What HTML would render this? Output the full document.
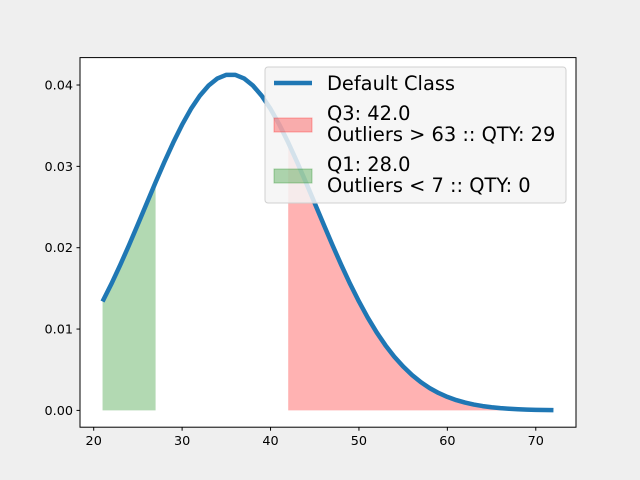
<!DOCTYPE html>
<html><head><meta charset="utf-8"><style>
body{margin:0;background:#fff}
svg{display:block;font-family:"DejaVu Sans","Liberation Sans",sans-serif}
</style></head><body>
<svg id="c" width="640" height="480" viewBox="0 0 640 480">
<rect width="640" height="480" fill="#efefef"/>
<rect x="80" y="57.6" width="496" height="369.6" fill="#fff"/>
<g id="marks"></g>
<rect x="80" y="57.6" width="496" height="369.6" fill="none" stroke="#000" stroke-width="1"/>
<g id="ticks"></g>
<g>
<rect x="265" y="67" width="301" height="136" rx="3" fill="#f4f4f4" fill-opacity="0.85" stroke="#d0d0d0"/>
<line x1="274" y1="83" x2="312" y2="83" stroke="#1f77b4" stroke-width="4.5"/>
<text x="327" y="90" font-size="19.4">Default Class</text>
<rect x="274" y="118" width="38" height="14" fill="#ff0000" fill-opacity="0.3" stroke="#ff0000" stroke-opacity="0.3"/>
<text x="327" y="120" font-size="19.4">Q3: 42.0</text>
<text x="327" y="141" font-size="19.4">Outliers &gt; 63 :: QTY: 29</text>
<rect x="274" y="169" width="38" height="14" fill="#008000" fill-opacity="0.3" stroke="#008000" stroke-opacity="0.3"/>
<text x="327" y="171" font-size="19.4">Q1: 28.0</text>
<text x="327" y="192" font-size="19.4">Outliers &lt; 7 :: QTY: 0</text>
</g>
</svg>
<script>
const xs=[21,22,23,24,25,26,27,28,29,30,31,32,33,34,35,36,37,38,39,40,41,42,43,44,45,46,47,48,49,50,51,52,53,54,55,56,57,58,59,60,61,62,63,64,65,66,67,68,69,70,71,72];
const ys=[0.01339,0.01555,0.01788,0.02033,0.02288,0.02547,0.02804,0.03055,0.03293,0.03512,0.03706,0.03868,0.03994,0.04081,0.04125,0.04125,0.04081,0.03994,0.03868,0.03706,0.03512,0.03293,0.03055,0.02804,0.02547,0.02288,0.02033,0.01788,0.01555,0.01339,0.01140,0.00960,0.00800,0.00660,0.00539,0.00435,0.00347,0.00274,0.00214,0.00166,0.00127,0.00096,0.00072,0.00053,0.00039,0.00028,0.00020,0.00014,0.00010,0.00007,0.00005,0.00003];
const q1Range=[21,27];
const q3Range=[42,72];
const xTicks=[20,30,40,50,60,70];
const yTicks=[0,0.01,0.02,0.03,0.04];
const yLabels=["0.00","0.01","0.02","0.03","0.04"];
const X0=18.45,X1=74.55,Y0=-0.002065,Y1=0.04337;
const L=80,R=576,T=57.6,B=427.2;
const sx=v=>L+(v-X0)/(X1-X0)*(R-L);
const sy=v=>B-(v-Y0)/(Y1-Y0)*(B-T);
const NS="http://www.w3.org/2000/svg";
const marks=document.getElementById('marks'),ticks=document.getElementById('ticks');
function mk(tag,attrs,parent){const e=document.createElementNS(NS,tag);for(const k in attrs)e.setAttribute(k,attrs[k]);parent.appendChild(e);return e;}
function area(r,fill){
  let d='M'+sx(r[0])+','+sy(0);
  xs.forEach((x,i)=>{if(x>=r[0]&&x<=r[1])d+=' L'+sx(x)+','+sy(ys[i]);});
  d+=' L'+sx(r[1])+','+sy(0)+' Z';
  return mk('path',{d:d,fill:fill,'fill-opacity':0.3,stroke:'none'},marks);
}
const g=area(q1Range,'#008000');


const r=area(q3Range,'#ff0000');


const line=mk('path',{d:xs.map((x,i)=>(i?'L':'M')+sx(x)+','+sy(ys[i])).join(' '),fill:'none',stroke:'#1f77b4','stroke-width':4.5,'stroke-linejoin':'round'},marks);


xTicks.forEach(v=>{
  const t=mk('line',{x1:sx(v),x2:sx(v),y1:B,y2:B+3.5,stroke:'#000'},ticks);
  
  
  const l=mk('text',{x:sx(v),y:B+18,'font-size':12.8,'text-anchor':'middle'},ticks);l.textContent=v;
  
  
});
yTicks.forEach((v,i)=>{
  const t=mk('line',{x1:L-3.5,x2:L,y1:sy(v),y2:sy(v),stroke:'#000'},ticks);
  
  
  const l=mk('text',{x:L-7,y:sy(v)+4.5,'font-size':12.8,'text-anchor':'end'},ticks);l.textContent=yLabels[i];
  
  
});
</script>
</body></html>
